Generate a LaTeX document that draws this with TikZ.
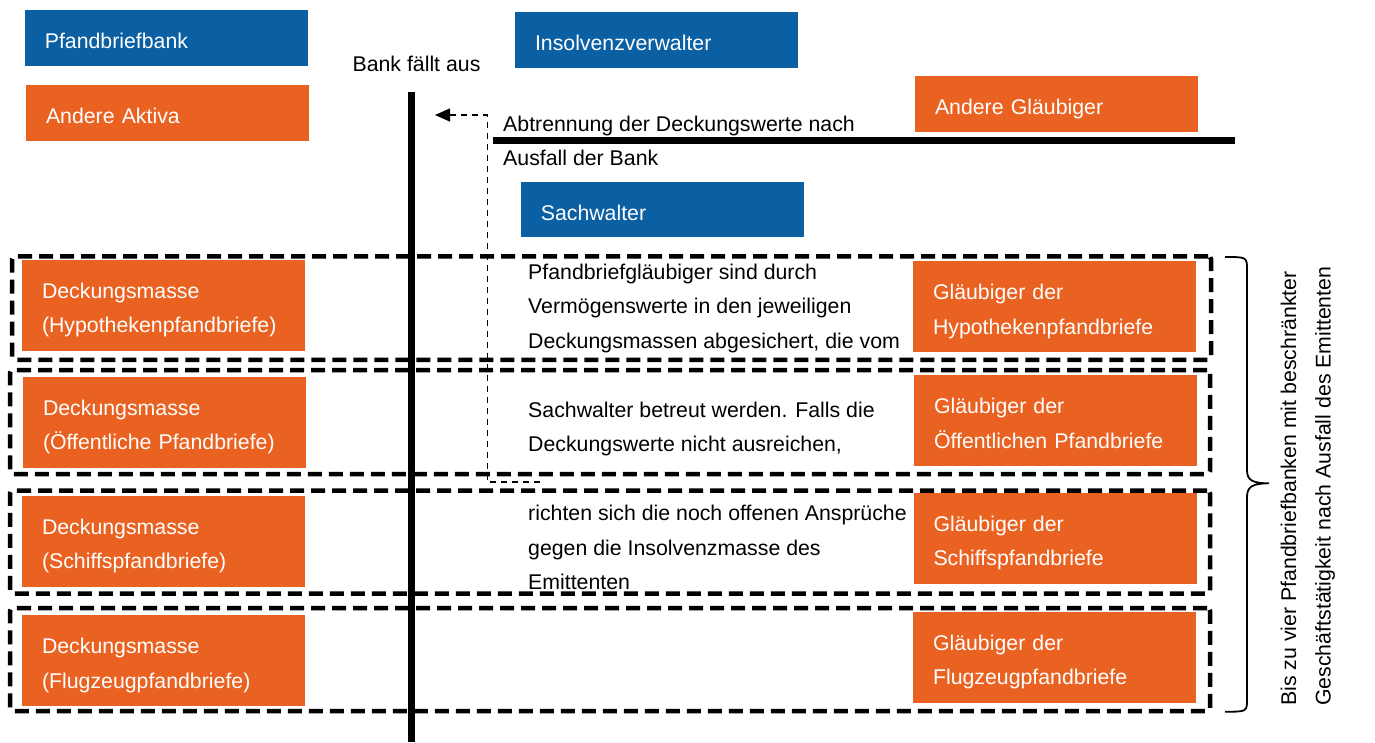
\documentclass[tikz,border=0pt]{standalone}
\usepackage{fontspec}
\setmainfont{Liberation Sans}
\usetikzlibrary{arrows.meta}
\definecolor{pbblue}{RGB}{11,95,163}
\definecolor{pborange}{RGB}{234,98,33}
\begin{document}
\begin{tikzpicture}[x=1pt, y=-1pt, font=\fontsize{21.3}{34.5}\selectfont,
one box/.style={rectangle, text=white, inner xsep=20pt, inner ysep=0pt, text width=243pt, align=left, minimum height=56pt, text height=26pt, text depth=4.5pt},
two box/.style={rectangle, fill=pborange, text=white, inner xsep=20pt, inner ysep=0pt, text width=243pt, align=left, minimum height=91pt, text height=17pt, text depth=31pt},
group frame/.style={draw, line width=4.5pt, dash pattern=on 14pt off 7pt, rounded corners=3pt, inner sep=0pt, minimum width=1200pt},
plain text/.style={inner sep=0pt, align=left},
bar/.style={line width=7.5pt},
thin dash/.style={line width=1.5pt, dash pattern=on 6pt off 5pt}]
\useasboundingbox (0,0) rectangle (1375,742);
\begin{scope}
\node[group frame, minimum width=1199pt, minimum height=103.5pt] (grp1) at (611.5,308) {};
\node[group frame, minimum height=104pt] (grp2) at (610,422) {};
\node[group frame, minimum height=103pt] (grp3) at (610,542) {};
\node[group frame, minimum height=103pt] (grp4) at (610,659.5) {};
\end{scope}
\begin{scope}
\node[one box, fill=pbblue] (bank) at (166.3,37.8) {Pfandbriefbank};
\node[one box, fill=pborange] (aktiva) at (167.5,112.8) {Andere Aktiva};
\node[one box, fill=pbblue] (insolv) at (656.5,40) {Insolvenzverwalter};
\node[one box, fill=pborange] (andere) at (1056.5,104) {Andere Gläubiger};
\node[one box, fill=pbblue, minimum height=55.5pt] (sachw) at (662.3,209.5) {Sachwalter};
\node[two box] (dm1) at (163.5,305.3) {Deckungsmasse\\(Hypothekenpfandbriefe)};
\node[two box] (dm2) at (164.5,422.2) {Deckungsmasse\\(Öffentliche Pfandbriefe)};
\node[two box] (dm3) at (163.5,541.3) {Deckungsmasse\\(Schiffspfandbriefe)};
\node[two box] (dm4) at (163.5,660.5) {Deckungsmasse\\(Flugzeugpfandbriefe)};
\node[two box] (gl1) at (1054.5,306.5) {Gläubiger der\\Hypothekenpfandbriefe};
\node[two box] (gl2) at (1055.5,420.5) {Gläubiger der\\Öffentlichen Pfandbriefe};
\node[two box] (gl3) at (1055,538.3) {Gläubiger der\\Schiffspfandbriefe};
\node[two box] (gl4) at (1054.5,657.3) {Gläubiger der\\Flugzeugpfandbriefe};
\end{scope}
\begin{scope}
\node[plain text, anchor=base] (ausfall) at (416.5,71) {Bank fällt aus};
\node[plain text, anchor=north west] (trenn) at (503,116.2) {Abtrennung der Deckungswerte nach\\[-1.2pt]Ausfall der Bank};
\node[plain text, anchor=north west] (info) at (528,263.8) {Pfandbriefgläubiger sind durch\\Vermögenswerte in den jeweiligen\\Deckungsmassen abgesichert, die vom\\[34.5pt]Sachwalter betreut werden. Falls die\\Deckungswerte nicht ausreichen,\\[34.5pt]richten sich die noch offenen Ansprüche\\gegen die Insolvenzmasse des\\Emittenten};
\node[plain text, rotate=90, anchor=west] (note) at (1307.75,706) {Bis zu vier Pfandbriefbanken mit beschränkter\\Geschäftstätigkeit nach Ausfall des Emittenten};
\end{scope}
\begin{scope}
\coordinate (barTop) at (411.5,92);
\coordinate (barBot) at (411.5,742);
\coordinate (trennL) at (493,140.5);
\coordinate (trennR) at (1235,140.5);
\coordinate (dashEnd) at (540,482);
\coordinate (dashTurn) at (487.5,115);
\coordinate (dashTip) at (435,115);
\draw[bar] (barTop) -- (barBot);
\draw[bar] (trennL) -- (trennR);
\draw[thin dash, -{Triangle[length=15pt,width=13pt]}] (dashEnd) -| (dashTurn) -- (dashTip);
%brace
\draw[line width=1.8pt] (1225,257) .. controls (1247,257) .. (1247,270) -- (1247,470) .. controls (1247,480) and (1252,483.3) .. (1269,483.3) .. controls (1252,483.3) and (1247,487) .. (1247,497) -- (1247,699) .. controls (1247,711.7) .. (1225,711.7);
\end{scope}
\end{tikzpicture}
\end{document}
